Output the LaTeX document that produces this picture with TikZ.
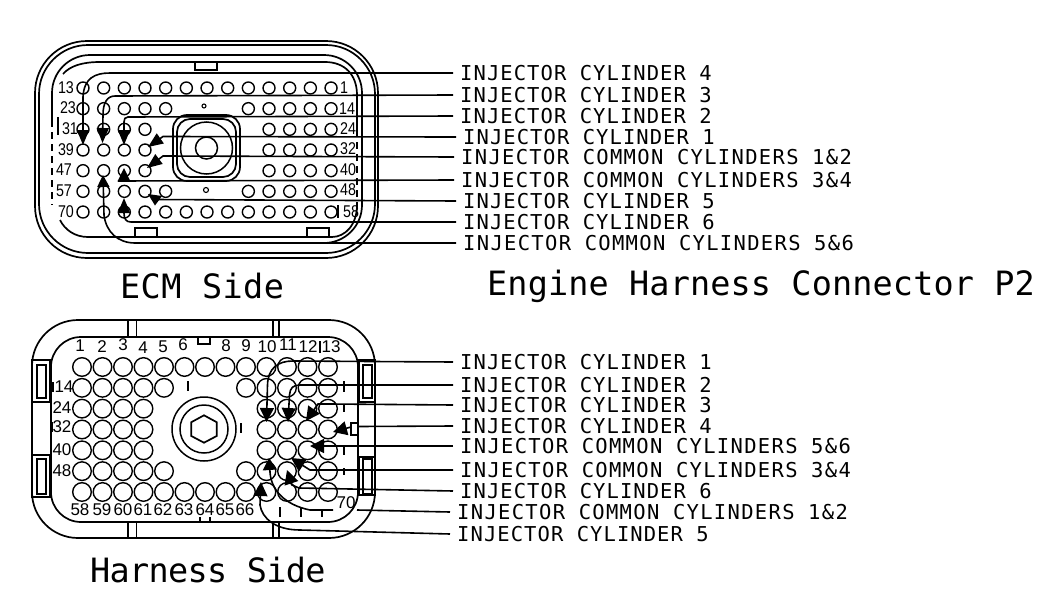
\documentclass[tikz,border=0pt]{standalone}
\usepackage{fontspec}
\usetikzlibrary{arrows.meta}
\setmainfont{Liberation Sans}
\newfontfamily\lblfont[LetterSpace=5.2]{DejaVu Sans Mono}
\newfontfamily\lblwfont[LetterSpace=6.4]{DejaVu Sans Mono}
\newfontfamily\ttlfont[LetterSpace=1.2]{DejaVu Sans Mono}
\newfontfamily\ttlbfont[LetterSpace=0.4]{DejaVu Sans Mono}
\newfontfamily\ttlcfont[LetterSpace=-2]{DejaVu Sans Mono}
\newfontfamily\numfont[FakeStretch=0.84]{Liberation Sans}
\newfontfamily\numwfont[FakeStretch=1.0]{Liberation Sans}
\tikzset{
  shell/.style={line width=1.7pt},
  tabbox/.style={line width=1.7pt},
  thintick/.style={line width=1.1pt},
  pinA/.style={draw,circle,line width=1.4pt,minimum size=12pt,inner sep=0pt},
  pinB/.style={draw,circle,line width=1.4pt,minimum size=18.6pt,inner sep=0pt},
  wire/.style={line width=1.6pt},
  arrowed/.style={wire,-{Triangle[length=#1,width=12pt]}},
  arrowed/.default=15pt,
  harrow/.style={wire,-{Triangle[length=#1,width=14pt]}},
  harrow/.default=14pt,
  wirelabel/.style={anchor=west,inner ysep=0pt,inner xsep=7pt,text height=15pt,text depth=0pt,font=\fontsize{20.5}{20.5}\lblfont},
  wirelabelwide/.style={wirelabel,font=\fontsize{20.5}{20.5}\lblwfont},
  numA/.style={inner sep=0pt,font=\fontsize{17}{17}\numfont},
  numB/.style={inner sep=0pt,font=\fontsize{17}{17}\numwfont},
  titletext/.style={inner sep=0pt,anchor=west,font=\fontsize{33.5}{34}\ttlfont},
}
\begin{document}
\begin{tikzpicture}[x=1pt,y=-1pt]
\useasboundingbox (0,0) rectangle (1050,600);
\fill[white] (0,0) rectangle (1050,600);

% ---------- ECM side shell ----------
\draw[shell,rounded corners=52pt] (35,41) rectangle (378,258);
\draw[shell,rounded corners=49pt] (39,45) rectangle (375,253);
\draw[shell,rounded corners=38pt] (52,120) -- (52,55) -- (362,55) -- (362,243) -- (315,243);
\draw[shell] (63,74) .. controls (70,66) and (82,62) .. (100,62) -- (325,62) .. controls (345,62) and (357,75) .. (357,95) -- (357,130);
\draw[line width=1.3pt,dash pattern=on 7pt off 5pt] (52,120) -- (52,205);
\draw[line width=1.3pt,dash pattern=on 7pt off 5pt] (357,130) -- (357,205);
\draw[shell] (60,220) .. controls (65,230) and (75,237) .. (88,237) -- (332,237) .. controls (345,237) and (357,225) .. (357,205);
\draw[tabbox] (195,62) rectangle (217,70);
\draw[tabbox] (135,228) rectangle (157,237);
\draw[tabbox] (307,228) rectangle (329,237);
\draw[thintick] (58,117) -- (58,135);
\draw[thintick] (338,205) -- (338,218);
% centre of ECM side
\draw[shell,rounded corners=14pt] (173,115) rectangle (240,181);
\draw[shell,rounded corners=13pt] (177,119) rectangle (236,177);
\node[draw,circle,line width=1.5pt,minimum size=52pt,inner sep=0pt] (ecmhubA) at (206.5,148) {};
\node[draw,circle,line width=1.5pt,minimum size=22pt,inner sep=0pt] (ecmhubB) at (206.5,148) {};
\node[draw,circle,line width=1.1pt,minimum size=4pt,inner sep=0pt] (ecmdotA) at (204,106) {};
\node[draw,circle,line width=1.1pt,minimum size=5pt,inner sep=0pt] (ecmdotB) at (206,190) {};

% ECM pins
\foreach \r/\cols in {1/{1,2,3,4,5,6,7,8,9,10,11,12,13},2/{1,2,3,4,5,9,10,11,12,13},3/{1,2,3,4,10,11,12,13},4/{1,2,3,4,10,11,12,13},5/{1,2,3,4,10,11,12,13},6/{1,2,3,4,5,9,10,11,12,13},7/{1,2,3,4,5,6,7,8,9,10,11,12,13}}
  \foreach \c in \cols
    \node[pinA] (e\r-\c) at ({83+20.67*(\c-1)},{88+20.67*(\r-1)}) {};

% ECM numbers
\foreach \t/\x/\y in {13/66/88,23/68/108,31/70/129,39/66/150,47/64/170,57/64/191,70/66/212,1/344/88,14/347/109,24/348/129,32/348/149,40/348/170,48/348/190,58/351/212}
  \node[numA] (en\t) at (\x,\y) {\t};

% ECM wire labels
\node[wirelabel] (eA) at (453,73) {INJECTOR CYLINDER 4};
\node[wirelabel] (eB) at (453,95) {INJECTOR CYLINDER 3};
\node[wirelabel] (eC) at (453,116) {INJECTOR CYLINDER 2};
\node[wirelabel] (eD) at (456,137) {INJECTOR CYLINDER 1};
\node[wirelabelwide] (eE) at (454,157) {INJECTOR COMMON CYLINDERS 1\&2};
\node[wirelabelwide] (eF) at (454,180) {INJECTOR COMMON CYLINDERS 3\&4};
\node[wirelabel] (eG) at (456,201) {INJECTOR CYLINDER 5};
\node[wirelabel] (eH) at (456,222) {INJECTOR CYLINDER 6};
\node[wirelabelwide] (eI) at (456,243) {INJECTOR COMMON CYLINDERS 5\&6};

% ECM wires
\draw[arrowed] (eA.west) -- (110,73) .. controls (95,73) and (84,78) .. (83,97) -- (83,145);
\draw[arrowed] (eB.west) -- (115,96) .. controls (107,96) and (103,103) .. (103,115) -- (102.5,143);
\draw[arrowed] (eC.west) -- (128,117) .. controls (125,117) and (124,119) .. (124,122) -- (124,145);
\draw[arrowed] (eD.west) -- (163,136.5) -- (148,147);
\draw[arrowed] (eE.west) -- (163,156) -- (147,168);
\draw[wire] (eF.west) -- (118,181);
\fill (117.5,181.5) -- (124,168) -- (130.5,181.5) -- cycle;
\draw[wire] (eG.west) -- (155,199.5);
\fill (148,194) -- (162,196) -- (155,205.5) -- cycle;
\draw[arrowed] (eH.west) -- (131,222) .. controls (126,222) and (124,219) .. (124,213) -- (124,198);
\draw[arrowed=12pt] (eI.west) -- (135,243) .. controls (118,243) and (106,232) .. (104,215) -- (103,175);

% titles
\node[titletext] (ecmtitle) at (120,286) {ECM Side};
\node[titletext,font=\fontsize{33.5}{34}\ttlbfont] (conntitle) at (487,286) {Engine Harness Connector P2};
\node[titletext,font=\fontsize{33.5}{34}\ttlcfont] (hartitle) at (90,570) {Harness Side};

% ---------- Harness side shell ----------
\draw[shell,rounded corners=46pt] (32,320) rectangle (375,538);
\draw[shell,rounded corners=30pt] (51,337) rectangle (358,522);
\foreach \xa/\ya/\xb/\yb in {32/360/50/402,32/455/50/497,359/360/375/402,359/457/375/495}
  \draw[line width=1.9pt] (\xa,\ya) rectangle (\xb,\yb);
\foreach \xa/\ya/\xb/\yb in {37/365/46/398,37/459/46/494,363/365/372/398,363/459/372/494}
  \draw[line width=1.6pt] (\xa,\ya) rectangle (\xb,\yb);
\draw[tabbox] (128,320) rectangle (136.5,337);
\draw[tabbox] (273,320) rectangle (279,337);
\draw[tabbox] (128,522) rectangle (136.5,538);
\draw[tabbox] (273,522) rectangle (279,538);
\draw[tabbox] (198,337) rectangle (210,344);
\draw[tabbox] (351,423) rectangle (358,435);
\foreach \x/\ya/\yb in {188/381/391,344/381/392,344/405/412,241/423/433,344/445/455,344/468/475,280/507/517,301/507/517,322/509/517,320/341/353,53/382/392,52/422/432,200/517/521,210/517/521}
  \draw[thintick] (\x,\ya) -- (\x,\yb);

% harness centre
\node[draw,circle,line width=1.5pt,minimum size=64pt,inner sep=0pt] (hhubA) at (204,429) {};
\node[draw,circle,line width=1.5pt,minimum size=48pt,inner sep=0pt] (hhubB) at (204,429) {};
\draw[line width=1.7pt] (204,415.3) -- (216.7,422.2) -- (216.7,436) -- (204,442.7) -- (191.3,436) -- (191.3,422.2) -- cycle;

% harness pins
\foreach \r/\cols in {1/{1,2,3,4,5,6,7,8,9,10,11,12,13},2/{1,2,3,4,5,9,10,11,12,13},3/{1,2,3,4,10,11,12,13},4/{1,2,3,4,10,11,12,13},5/{1,2,3,4,10,11,12,13},6/{1,2,3,4,5,9,10,11,12,13},7/{1,2,3,4,5,6,7,8,9,10,11,12,13}}
  \foreach \c in \cols
    \node[pinB] (h\r-\c) at ({82+20.5*(\c-1)},{367+20.83*(\r-1)}) {};

% harness numbers
\foreach \t/\x/\y in {1/80/346,2/102/347,3/123/345,4/143/348,5/163/347,6/183/345,8/226/346,9/246/346,10/267/347,11/288/345,12/308/347,13/331/347,14/64/387,24/62/408,32/62/427,40/62/450,48/62/471,58/80/510,59/102/510,60/123/510,61/143/510,62/163/510,63/184/510,64/205/510,65/225/510,66/245/510,70/346/503}
  \node[numB] (hn\t) at (\x,\y) {\t};

% harness wire labels
\node[wirelabel] (hA) at (453,362) {INJECTOR CYLINDER 1};
\node[wirelabel] (hB) at (453,385) {INJECTOR CYLINDER 2};
\node[wirelabel] (hC) at (453,405) {INJECTOR CYLINDER 3};
\node[wirelabel] (hD) at (453,426) {INJECTOR CYLINDER 4};
\node[wirelabelwide] (hE) at (453,446) {INJECTOR COMMON CYLINDERS 5\&6};
\node[wirelabelwide] (hF) at (453,470) {INJECTOR COMMON CYLINDERS 3\&4};
\node[wirelabel] (hG) at (453,491) {INJECTOR CYLINDER 6};
\node[wirelabelwide] (hH) at (450,512) {INJECTOR COMMON CYLINDERS 1\&2};
\node[wirelabel] (hI) at (450,534) {INJECTOR CYLINDER 5};

% harness wires
\draw[harrow] (hA.west) -- (293,361) .. controls (278,361) and (268,368) .. (267.5,385) -- (266.5,422);
\draw[harrow] (hB.west) -- (300,385) .. controls (293,385) and (290,388) .. (289.5,395) -- (288,422);
\draw[harrow] (hC.west) -- (330,404) -- (318,404) -- (306,421);
\draw[wire] (hD.west) -- (358,426.5);
\draw[harrow] (351,427) -- (333,432);
\draw[harrow] (hE.west) -- (310,446);
\draw[harrow] (hF.west) -- (310,470) -- (291,458);
\draw[harrow] (hG.west) -- (299,488) -- (292,485) -- (287,470);
\draw[wire] (hH.west) -- (357,510);
\draw[harrow=12pt] (333,510) -- (310,510) .. controls (285,505) and (271,490) .. (270,472) -- (269,458);
\draw[harrow] (hI.west) -- (300,530) .. controls (275,530) and (262,518) .. (260,505) -- (261,482);
\end{tikzpicture}
\end{document}
